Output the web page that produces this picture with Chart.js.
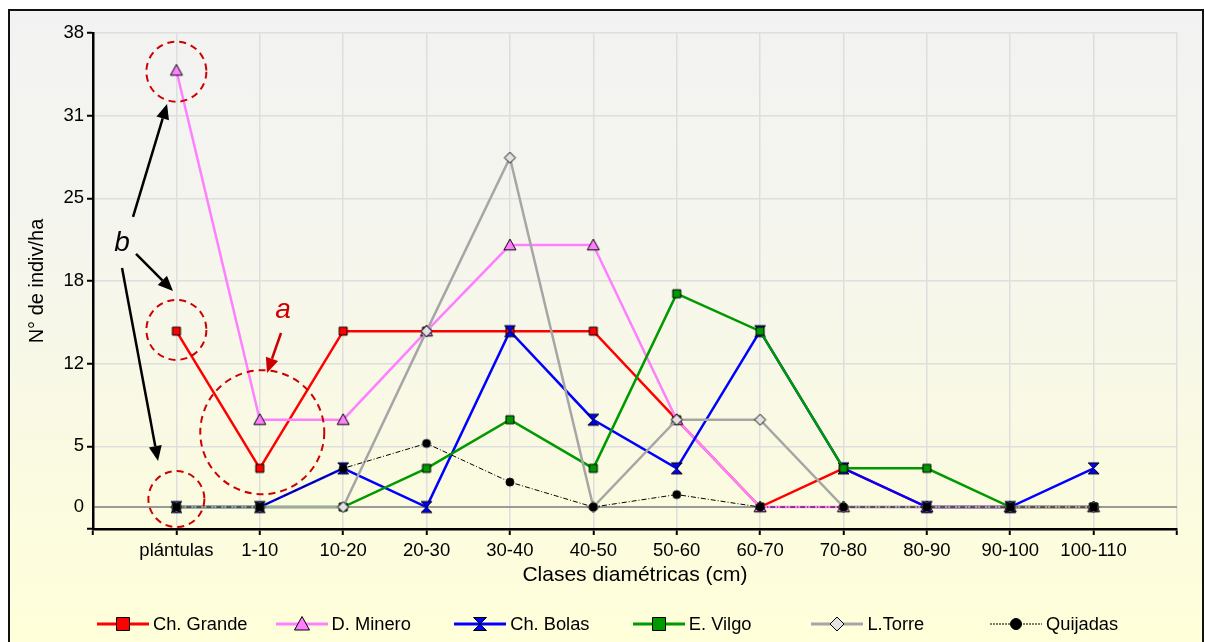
<!DOCTYPE html>
<html>
<head>
<meta charset="utf-8">
<title>Clases diamétricas</title>
<script src="https://cdn.jsdelivr.net/npm/chart.js@4.4.1/dist/chart.umd.min.js"></script>
<style>
  html, body { margin: 0; padding: 0; width: 1205px; height: 642px; overflow: hidden; background: #ffffff;
               font-family: "Liberation Sans", Arial, sans-serif; }
  #frame { position: absolute; left: 8px; top: 9px; width: 1192px; height: 640px;
           border: 2px solid #111; border-bottom: none;
           background: linear-gradient(to bottom, #f2f2f2 0%, #f5f5ee 35%, #fafae2 70%, #ffffd9 100%); }
  #chart { position: absolute; left: 0; top: 0; }
  #legend { position: absolute; left: 0; top: 612px; width: 1205px; height: 24px; }
  .item { position: absolute; top: 0; height: 24px; display: flex; align-items: center;
          font-size: 18.3px; color: #000; white-space: nowrap; }
  .item canvas { display: block; margin-right: 4px; }
</style>
</head>
<body>
<div id="frame"></div>
<canvas id="chart" width="1205" height="642"></canvas>
<div id="legend"></div>
<script>
// ---- data ---------------------------------------------------------------
const categories = ['plántulas', '1-10', '10-20', '20-30', '30-40', '40-50',
                    '50-60', '60-70', '70-80', '80-90', '90-100', '100-110'];

const chGrande = [14.1, 3.1, 14.1, 14.1, 14.1, 14.1, 7.0, 0, 3.1, 0, 0, 0];
const dMinero  = [35.0, 7.0, 7.0, 14.1, 21.0, 21.0, 7.0, 0, 0, 0, 0, 0];
const chBolas  = [0, 0, 3.1, 0, 14.1, 7.0, 3.1, 14.1, 3.1, 0, 0, 3.1];
const eVilgo   = [0, 0, 0, 3.1, 7.0, 3.1, 17.1, 14.1, 3.1, 3.1, 0, 0];
const lTorre   = [0, 0, 0, 14.1, 28.0, 0, 7.0, 7.0, 0, 0, 0, 0];
const quijadas = [0, 0, 3.1, 5.1, 2.0, 0, 1.0, 0, 0, 0, 0, 0];

const seriesNames = ['Ch. Grande', 'D. Minero', 'Ch. Bolas', 'E. Vilgo', 'L.Torre', 'Quijadas'];

// value axis: floor below zero, gridlines every sixth of the range
const yMin = -1.76;
const yMax = 38;
const yTickLabels = ['5', '12', '18', '25', '31', '38'];

// callouts (in axis units: category index / individuals per ha)
const calloutCircles = [
  { x: 0, y: 34.9, r: 30 },
  { x: 0, y: 14.2, r: 30 },
  { x: 0, y: 0.64, r: 28 },
  { x: 1.03, y: 6.0, r: 62 }
];
const calloutArrows = [
  { from: [1.255, 13.95], to: [1.087, 10.75], color: '#cc0000' },
  { from: [-0.52, 23.26], to: [-0.112, 32.3], color: '#000000' },
  { from: [-0.484, 20.29], to: [-0.041, 17.32], color: '#000000' },
  { from: [-0.652, 19.17], to: [-0.22, 3.69], color: '#000000' }
];
const calloutLetters = [
  { text: 'a', x: 1.28, y: 15.8, color: '#cc0000' },
  { text: 'b', x: -0.652, y: 21.17, color: '#000000' }
];

// ---- styles -------------------------------------------------------------
const FONT = "'Liberation Sans', Arial, sans-serif";
Chart.defaults.font.family = FONT;
Chart.defaults.color = '#000';

const seriesStyle = [
  { color: '#ff0000', shape: 'square',    fill: '#ff0000', size: 8,  legendSize: 13, width: 2.5, dash: [] },
  { color: '#ff80ff', shape: 'triangle',  fill: '#ff80ff', size: 12, legendSize: 15, width: 2.5, dash: [] },
  { color: '#0000ff', shape: 'hourglass', fill: '#0000ff', size: 11, legendSize: 13, width: 2.5, dash: [] },
  { color: '#009a00', shape: 'square',    fill: '#009a00', size: 8,  legendSize: 13, width: 2.5, dash: [] },
  { color: '#a6a6a6', shape: 'diamond',   fill: '#e2e2e2', size: 11, legendSize: 14, width: 2.5, dash: [] },
  { color: '#000000', shape: 'circle',    fill: '#000000', size: 8,  legendSize: 11, width: 1,   dash: [5, 2, 1, 2] }
];

function drawMarker(ctx, shape, cx, cy, s, fill) {
  const h = s / 2;
  ctx.save();
  ctx.fillStyle = fill;
  ctx.strokeStyle = '#000';
  ctx.lineWidth = 1;
  ctx.setLineDash([]);
  ctx.beginPath();
  switch (shape) {
    case 'square':
      ctx.rect(cx - h, cy - h, s, s);
      break;
    case 'triangle':
      ctx.moveTo(cx, cy - h);
      ctx.lineTo(cx + h, cy + h * 0.8);
      ctx.lineTo(cx - h, cy + h * 0.8);
      ctx.closePath();
      break;
    case 'hourglass':
      ctx.moveTo(cx - h, cy - h);
      ctx.lineTo(cx + h, cy - h);
      ctx.lineTo(cx, cy);
      ctx.lineTo(cx + h, cy + h);
      ctx.lineTo(cx - h, cy + h);
      ctx.lineTo(cx, cy);
      ctx.closePath();
      break;
    case 'diamond':
      ctx.moveTo(cx, cy - h);
      ctx.lineTo(cx + h, cy);
      ctx.lineTo(cx, cy + h);
      ctx.lineTo(cx - h, cy);
      ctx.closePath();
      break;
    default:
      ctx.arc(cx, cy, h, 0, Math.PI * 2);
  }
  ctx.fill();
  ctx.stroke();
  ctx.restore();
}

function markerImage(st) {
  const c = document.createElement('canvas');
  c.width = c.height = st.size + 4;
  drawMarker(c.getContext('2d'), st.shape, c.width / 2, c.height / 2, st.size, st.fill);
  return c;
}

function legendIcon(st) {
  const c = document.createElement('canvas');
  c.width = 52; c.height = 18;
  const ctx = c.getContext('2d');
  ctx.strokeStyle = st.color;
  ctx.lineWidth = st.width === 1 ? 1 : 3;
  ctx.setLineDash(st.dash.length ? [2, 1] : []);
  ctx.beginPath();
  ctx.moveTo(0, 9);
  ctx.lineTo(52, 9);
  ctx.stroke();
  drawMarker(ctx, st.shape, 26, 9, st.legendSize, st.fill);
  return c;
}

const seriesValues = [chGrande, dMinero, chBolas, eVilgo, lTorre, quijadas];

const datasets = seriesValues.map((vals, i) => {
  const st = seriesStyle[i];
  return {
    label: seriesNames[i],
    data: vals.map((v, k) => ({ x: k, y: v })),
    borderColor: st.color,
    backgroundColor: st.fill,
    borderWidth: st.width,
    borderDash: st.dash,
    pointStyle: markerImage(st),
    pointRadius: 5,
    pointHoverRadius: 5,
    tension: 0,
    fill: false,
    order: seriesValues.length - 1 - i   // later series sit on top
  };
});

// y ticks: bottom floor, zero line, then six evenly spaced gridlines
const yStep = (yMax - yMin) / 6;
const yTicks = [{ value: yMin, label: '' }, { value: 0, label: '0' }];
yTickLabels.forEach((lab, k) => yTicks.push({ value: yMin + (k + 1) * yStep, label: lab }));

function labelFor(value) {
  const t = yTicks.find(t => Math.abs(t.value - value) < 1e-6);
  return t ? t.label : '';
}

// ---- callout drawing ----------------------------------------------------
const calloutPlugin = {
  id: 'callouts',
  afterDatasetsDraw(chart) {
    const { ctx, scales: { x, y } } = chart;
    ctx.save();
    // dashed circles
    ctx.strokeStyle = '#cc0000';
    ctx.lineWidth = 2;
    ctx.setLineDash([7, 5]);
    calloutCircles.forEach(c => {
      ctx.beginPath();
      ctx.arc(x.getPixelForValue(c.x), y.getPixelForValue(c.y), c.r, 0, Math.PI * 2);
      ctx.stroke();
    });
    ctx.setLineDash([]);
    // arrows
    calloutArrows.forEach(a => {
      const x0 = x.getPixelForValue(a.from[0]), y0 = y.getPixelForValue(a.from[1]);
      const x1 = x.getPixelForValue(a.to[0]),   y1 = y.getPixelForValue(a.to[1]);
      const ang = Math.atan2(y1 - y0, x1 - x0);
      const head = 15, half = 6.5;
      const bx = x1 - head * Math.cos(ang), by = y1 - head * Math.sin(ang);
      ctx.strokeStyle = a.color;
      ctx.fillStyle = a.color;
      ctx.lineWidth = 2.5;
      ctx.beginPath();
      ctx.moveTo(x0, y0);
      ctx.lineTo(bx, by);
      ctx.stroke();
      ctx.beginPath();
      ctx.moveTo(x1, y1);
      ctx.lineTo(bx + half * Math.sin(ang), by - half * Math.cos(ang));
      ctx.lineTo(bx - half * Math.sin(ang), by + half * Math.cos(ang));
      ctx.closePath();
      ctx.fill();
    });
    // letters
    ctx.textAlign = 'center';
    ctx.textBaseline = 'middle';
    ctx.font = 'italic 28px ' + FONT;
    calloutLetters.forEach(l => {
      ctx.fillStyle = l.color;
      ctx.fillText(l.text, x.getPixelForValue(l.x), y.getPixelForValue(l.y));
    });
    ctx.restore();
  }
};

// ---- chart --------------------------------------------------------------
const chart = new Chart(document.getElementById('chart'), {
  type: 'line',
  data: { datasets },
  plugins: [calloutPlugin],
  options: {
    responsive: false,
    animation: false,
    devicePixelRatio: 1,
    layout: { padding: { left: 20, right: 28, top: 33, bottom: 41 } },
    plugins: {
      legend: { display: false },
      tooltip: { enabled: false }
    },
    scales: {
      x: {
        type: 'linear',
        min: -1,
        max: 12,
        afterFit(scale) { scale.height = 72; },
        ticks: {
          stepSize: 1,
          autoSkip: false,
          maxRotation: 0,
          padding: 5,
          font: { size: 18.5 },
          color: '#000',
          callback: (v) => categories[v] !== undefined ? categories[v] : ''
        },
        grid: {
          color: '#dedede',
          lineWidth: 1.5,
          drawTicks: true,
          tickLength: 6,
          tickColor: '#000',
          tickWidth: 2
        },
        border: { display: true, color: '#000', width: 2.5 },
        title: {
          display: true,
          text: 'Clases diamétricas (cm)',
          font: { size: 21 },
          color: '#000',
          padding: { top: 0, bottom: 13 }
        }
      },
      y: {
        type: 'linear',
        min: yMin,
        max: yMax,
        afterFit(scale) { scale.width = 73; },
        afterBuildTicks(scale) { scale.ticks = yTicks.map(t => ({ value: t.value })); },
        ticks: {
          autoSkip: false,
          padding: 3,
          font: { size: 18.5 },
          color: '#000',
          callback: (v) => labelFor(v)
        },
        grid: {
          color: (c) => (c.tick && c.tick.value === 0) ? '#9a9a9a' : '#dedede',
          lineWidth: (c) => (c.tick && c.tick.value === 0) ? 2 : 1.5,
          drawTicks: true,
          tickLength: 6,
          tickColor: (c) => (c.tick && c.tick.value === 0) ? 'rgba(0,0,0,0)' : '#000',
          tickWidth: 2
        },
        border: { display: true, color: '#000', width: 2.5 },
        title: {
          display: true,
          text: 'N° de indiv/ha',
          font: { size: 20 },
          color: '#000',
          padding: { top: 5, bottom: 0 }
        }
      }
    }
  }
});

// ---- legend (line + marker, evenly spaced) ------------------------------
const legendEl = document.getElementById('legend');
chart.data.datasets.forEach((ds, i) => {
  const item = document.createElement('div');
  item.className = 'item';
  item.style.left = (97 + i * 178.6) + 'px';
  item.appendChild(legendIcon(seriesStyle[i]));
  const span = document.createElement('span');
  span.textContent = ds.label;
  item.appendChild(span);
  legendEl.appendChild(item);
});
</script>
</body>
</html>
